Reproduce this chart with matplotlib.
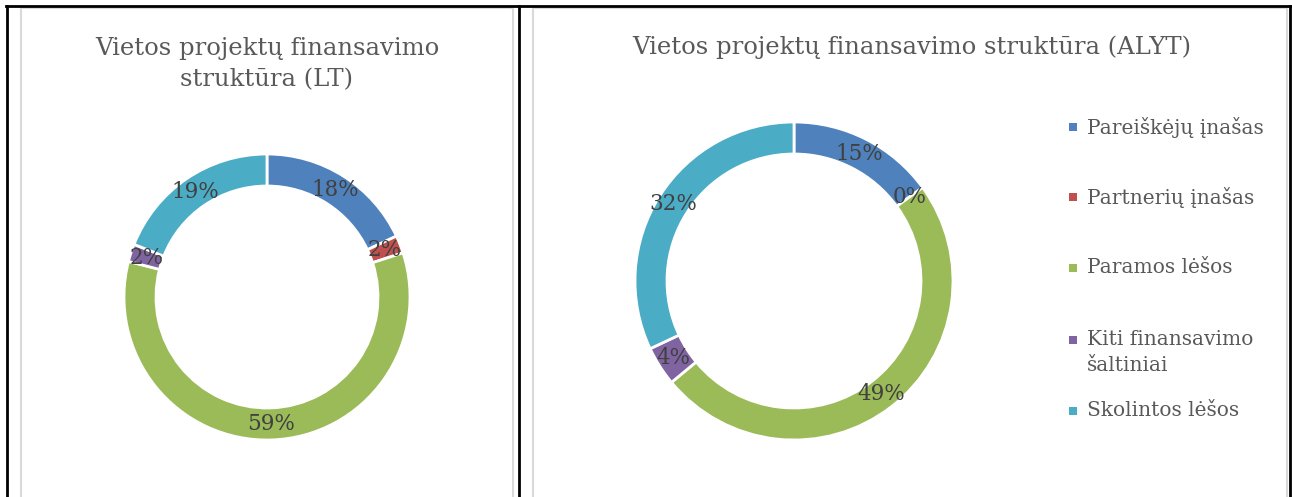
import matplotlib
matplotlib.use("Agg")
import matplotlib.pyplot as plt
from matplotlib.lines import Line2D
from matplotlib.patches import Rectangle

W, H = 1292, 497

categories = ['Pareiškėjų įnašas', 'Partnerių įnašas', 'Paramos lėšos',
              'Kiti finansavimo\nšaltiniai', 'Skolintos lėšos']
lt_values = [18, 2, 59, 2, 19]
alyt_values = [15, 0, 49, 4, 32]
colors = ['#4F81BD', '#C0504D', '#9BBB59', '#8064A2', '#4BACC6']
titles = ['Vietos projektų finansavimo\nstruktūra (LT)',
          'Vietos projektų finansavimo struktūra (ALYT)']

plt.rcParams['font.family'] = ['DejaVu Serif']

fig = plt.figure(figsize=(W / 100, H / 100), dpi=100)
ax = fig.add_axes([0, 0, 1, 1])


def donut(values, cx, cy, r, ring):
    inner = 1 - ring / r
    wedges, texts, autotexts = ax.pie(
        values, colors=colors, startangle=90, counterclock=False,
        center=(cx, H - cy), radius=r, frame=True,
        wedgeprops=dict(width=ring, edgecolor='white', linewidth=2),
        autopct=lambda p: '%d%%' % round(p), pctdistance=(1 + inner) / 2,
        textprops=dict(color='#404040', fontsize=15.5))
    return wedges


donut(lt_values, 267, 297, 143, 32)
donut(alyt_values, 794, 281, 159, 32)

ax.set_xlim(0, W)
ax.set_ylim(0, H)
ax.set_aspect('auto')
ax.axis('off')

ax.text(267, H - 64, titles[0], ha='center', va='center', fontsize=17.5,
        color='#595959', linespacing=1.5)
ax.text(912, H - 47, titles[1], ha='center', va='center', fontsize=17.5,
        color='#595959')

# legend: marker sits beside the first line of each label
leg_y = [127, 197, 268, 340, 411]
for lab, col, y in zip(categories, colors, leg_y):
    ax.add_patch(Rectangle((1069, H - y - 4), 8, 8, color=col, lw=0))
    ax.text(1087, H - y + 10, lab, ha='left', va='top', fontsize=14.5,
            color='#595959', linespacing=1.45)

# chart borders (light gray) and table frame (black)
for x in [21, 513, 533, 1287]:
    fig.add_artist(Line2D([x / W, x / W], [0, 1 - 8 / H], color='#D9D9D9', lw=1.5))
fig.add_artist(Line2D([21 / W, 513 / W], [1 - 8 / H, 1 - 8 / H], color='#D9D9D9', lw=1.5))
fig.add_artist(Line2D([533 / W, 1287 / W], [1 - 8 / H, 1 - 8 / H], color='#D9D9D9', lw=1.5))
for x in [7, 519, 1290]:
    fig.add_artist(Line2D([x / W, x / W], [0, 1 - 5.5 / H], color='black', lw=2))
fig.add_artist(Line2D([6 / W, 1291 / W], [1 - 6 / H, 1 - 6 / H], color='black', lw=2))

fig.savefig('out.png', dpi=100, facecolor='white')
